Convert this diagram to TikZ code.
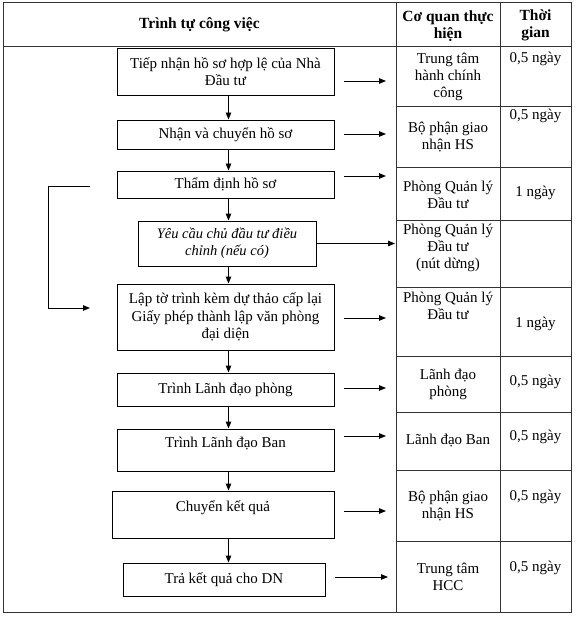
\documentclass[tikz,border=0pt]{standalone}
\usepackage{fontspec}
\setmainfont{Liberation Serif}
\usetikzlibrary{arrows.meta,calc}
\begin{document}
\begin{tikzpicture}[x=1pt,y=-1pt,
  tline/.style={draw=black!80,line width=1pt},
  box/.style={draw,line width=0.9pt,align=center,inner sep=0pt,font=\fontsize{15}{17.5}\selectfont},
  cell/.style={align=center,inner sep=0pt,font=\fontsize{15}{17}\selectfont},
  hdr/.style={align=center,inner sep=0pt,font=\fontsize{15.5}{17}\selectfont\bfseries},
  arr/.style={-{Triangle[length=7pt,width=5.5pt]},line width=0.9pt}
]
\useasboundingbox (0,0) rectangle (576,620);
% table
\draw[tline] (3,3) rectangle (571,612);
\draw[tline] (3,47) -- (571,47);
\draw[tline] (396,3) -- (396,612);
\draw[tline] (500,3) -- (500,612);
\foreach \yy in {107,168,220,287,356,412,470,541}
  \draw[tline] (396,\yy) -- (571,\yy);
% header
\node[hdr] (h1) at (199.5,25) {Trình tự công việc};
\node[hdr] (h2) at (448,26) {Cơ quan thực\\hiện};
\node[hdr] (h3) at (535.5,25) {Thời\\gian};
% boxes
\node[box,minimum width=217,minimum height=47] (b1) at (225.5,71.5) {Tiếp nhận hồ sơ hợp lệ của Nhà\\Đầu tư};
\node[box,minimum width=217,minimum height=29] (b2) at (225.5,134.5) {Nhận và chuyển hồ sơ};
\node[box,minimum width=217,minimum height=27] (b3) at (225.5,184.5) {Thẩm định hồ sơ};
\node[box,minimum width=178,minimum height=45,font=\fontsize{14.5}{17}\selectfont\itshape] (b4) at (227,243.5) {Yêu cầu chủ đầu tư điều\\chỉnh (nếu có)};
\node[box,minimum width=217,minimum height=66] (b5) at (225.5,317) {Lập tờ trình kèm dự thảo cấp lại\\Giấy phép thành lập văn phòng\\đại diện};
\node[box,minimum width=217,minimum height=33] (b6) at (225.5,389.5) {Trình Lãnh đạo phòng};
\node[box,minimum width=217,minimum height=42] (b7) at (225.5,450) {Trình Lãnh đạo Ban\\[-3pt]\mbox{}};
\node[box,minimum width=222,minimum height=47] (b8) at (223,514.5) {Chuyển kết quả\\\mbox{}};
\node[box,minimum width=202,minimum height=33] (b9) at (224,579.5) {Trả kết quả cho DN};
% vertical arrows
\coordinate (ax) at (228.5,0);
\foreach \a/\b in {b1/b2,b2/b3,b3/b4,b4/b5,b5/b6,b6/b7,b7/b8,b8/b9}
  \draw[arr] (\a.south -| ax) -- (\b.north -| ax);
% loop
\coordinate (l1) at (90,186);
\coordinate (l2) at (48,186);
\coordinate (l3) at (48,308);
\coordinate (l4) at (90,308);
\draw[arr] (l1) -- (l2) -- (l3) -- (l4);
% cells
\node[cell] (c1) at (448,77) {Trung tâm\\hành chính\\công};
\node[cell] (t1) at (535.5,59) {0,5 ngày};
\node[cell] (c2) at (448,137.5) {Bộ phận giao\\nhận HS};
\node[cell] (t2) at (535.5,116) {0,5 ngày};
\node[cell] (c3) at (448,195) {Phòng Quản lý\\Đầu tư};
\node[cell] (t3) at (535.5,193) {1 ngày};
\node[cell] (c4) at (448,248) {Phòng Quản lý\\Đầu tư\\(nút dừng)};
\node[cell] (c5) at (448,306) {Phòng Quản lý\\Đầu tư};
\node[cell] (t5) at (535.5,324) {1 ngày};
\node[cell] (c6) at (448,384) {Lãnh đạo\\phòng};
\node[cell] (t6) at (535.5,382) {0,5 ngày};
\node[cell] (c7) at (448,441) {Lãnh đạo Ban};
\node[cell] (t7) at (535.5,437) {0,5 ngày};
\node[cell] (c8) at (448,506) {Bộ phận giao\\nhận HS};
\node[cell] (t8) at (535.5,497) {0,5 ngày};
\node[cell] (c9) at (448,577) {Trung tâm\\HCC};
\node[cell] (t9) at (535.5,568) {0,5 ngày};
% horizontal arrows
\foreach \i/\yy in {1/81,2/134,3/176,5/318,6/388,7/436,8/511}{
  \coordinate (s\i) at (344,\yy);
  \coordinate (e\i) at (386,\yy);
  \draw[arr] (s\i) -- (e\i);
}
\coordinate (e4) at (395,0);
\draw[arr] (b4.east) -- (b4.east -| e4);
\coordinate (s9) at (335,577);
\coordinate (e9) at (388,577);
\draw[arr] (s9) -- (e9);
\end{tikzpicture}
\end{document}
